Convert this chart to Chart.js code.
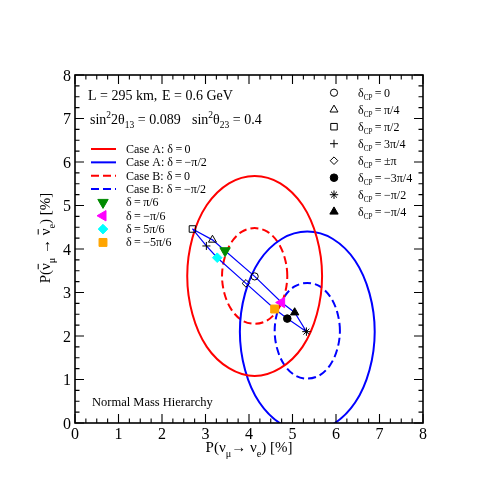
<!DOCTYPE html>
<html>
<head>
<meta charset="utf-8">
<script src="https://cdn.jsdelivr.net/npm/chart.js@4.4.0/dist/chart.umd.min.js"></script>
<style>
  html, body { margin: 0; padding: 0; background: #fff; }
</style>
</head>
<body>
<canvas id="probChart" width="498" height="498"></canvas>
<script>
// =========================
//  P(nu_mu -> nu_e) vs P(anti) bi-probability plot
// =========================

// ----- Data -----
const xTicks = [0, 1, 2, 3, 4, 5, 6, 7, 8];
const yTicks = [0, 1, 2, 3, 4, 5, 6, 7, 8];

// delta_CP markers (black)
const cpLabels = ["0", "π/4", "π/2", "3π/4", "±π", "−3π/4", "−π/2", "−π/4"];
const cpX = [4.13, 3.16, 2.70, 3.02, 3.93, 4.88, 5.32, 5.05];
const cpY = [3.37, 4.21, 4.46, 4.07, 3.21, 2.40, 2.10, 2.54];

// extra delta markers (coloured)
const deltaLabels = ["π/6", "−π/6", "5π/6", "−5π/6"];
const deltaX = [3.45, 4.75, 3.27, 4.59];
const deltaY = [3.96, 2.77, 3.80, 2.62];

// thin contour, delta = π/2 → 0 → −π/2 → ±π → π/2
const bandX = [2.70, 3.16, 3.45, 4.13, 4.75, 5.05, 5.32, 4.88, 4.59, 3.93, 3.27, 3.02, 2.70];
const bandY = [4.46, 4.21, 3.96, 3.37, 2.77, 2.54, 2.10, 2.40, 2.62, 3.21, 3.80, 4.07, 4.46];

// Case A: delta = 0 (red solid)
const caseA0X = [5.68, 5.56, 5.23, 4.72, 4.13, 3.54, 3.03, 2.70, 2.58, 2.70, 3.03, 3.54, 4.13, 4.72, 5.23, 5.56, 5.68];
const caseA0Y = [3.38, 4.26, 5.01, 5.51, 5.68, 5.51, 5.01, 4.26, 3.38, 2.50, 1.75, 1.26, 1.08, 1.26, 1.75, 2.50, 3.38];
// Case A: delta = -π/2 (blue solid)
const caseA1X = [6.89, 6.77, 6.44, 5.93, 5.34, 4.75, 4.24, 3.91, 3.79, 3.91, 4.24, 4.75, 5.34, 5.93, 6.44, 6.77, 6.89];
const caseA1Y = [2.10, 2.98, 3.73, 4.23, 4.40, 4.23, 3.73, 2.98, 2.10, 1.22, 0.47, -0.03, -0.20, -0.03, 0.47, 1.22, 2.10];
// Case B: delta = 0 (red dashed)
const caseB0X = [4.88, 4.82, 4.66, 4.42, 4.13, 3.84, 3.60, 3.44, 3.38, 3.44, 3.60, 3.84, 4.13, 4.42, 4.66, 4.82, 4.88];
const caseB0Y = [3.38, 3.80, 4.16, 4.40, 4.48, 4.40, 4.16, 3.80, 3.38, 2.96, 2.60, 2.36, 2.28, 2.36, 2.60, 2.96, 3.38];
// Case B: delta = -π/2 (blue dashed)
const caseB1X = [6.09, 6.03, 5.87, 5.63, 5.34, 5.05, 4.81, 4.65, 4.59, 4.65, 4.81, 5.05, 5.34, 5.63, 5.87, 6.03, 6.09];
const caseB1Y = [2.12, 2.54, 2.90, 3.14, 3.22, 3.14, 2.90, 2.54, 2.12, 1.70, 1.34, 1.10, 1.02, 1.10, 1.34, 1.70, 2.12];

const caseLabels = ["Case A: δ = 0", "Case A: δ = −π/2", "Case B: δ = 0", "Case B: δ = −π/2"];

// ----- Styles -----
const SERIF = '"Liberation Serif", "Times New Roman", serif';
const RED = "#ff0000", BLUE = "#0000ff";
const NONE = "rgba(0,0,0,0)";
const THIN = "\u2009";

const cpStyle = [
  { pointStyle: "circle", radius: 3.6, fill: NONE, rot: 0 },
  { pointStyle: "triangle", radius: 4.6, fill: NONE, rot: 0 },
  { pointStyle: "rect", radius: 4.6, fill: NONE, rot: 0 },
  { pointStyle: "cross", radius: 4, fill: NONE, rot: 0 },
  { pointStyle: "rectRot", radius: 3.8, fill: NONE, rot: 0 },
  { pointStyle: "circle", radius: 3.8, fill: "#000", rot: 0 },
  { pointStyle: "star", radius: 4.2, fill: NONE, rot: 0 },
  { pointStyle: "triangle", radius: 4.8, fill: "#000", rot: 0 }
];
const deltaStyle = [
  { pointStyle: "triangle", radius: 6, fill: "#008b00", rot: 180 },
  { pointStyle: "triangle", radius: 6, fill: "#ff00ff", rot: -90 },
  { pointStyle: "rectRot", radius: 4.8, fill: "#00ffff", rot: 0 },
  { pointStyle: "rect", radius: 5.6, fill: "#ffa500", rot: 0 }
];

const toPts = (xs, ys) => xs.map((x, i) => ({ x, y: ys[i] }));
// closed curves: add the neighbours on both ends so the spline joins smoothly
const wrap = (a) => [a[a.length - 2], ...a, a[1]];
const thin = (s) => s.replace(/ = /g, THIN + "=" + THIN);

// ----- Rich text helper: ^{sup}, _{sub}, !{overbar} -----
function parseRich(str) {
  const re = /([\^_!])\{([^}]*)\}|([^\^_!]+)/g;
  const out = [];
  let m;
  while ((m = re.exec(str))) {
    if (m[3]) out.push({ t: m[3], mode: "n" });
    else out.push({ t: m[2], mode: m[1] === "^" ? "sup" : m[1] === "_" ? "sub" : "bar" });
  }
  return out;
}

function drawRich(ctx, str, x, y, size, align, subScale) {
  const parts = parseRich(str);
  const ss = subScale || 0.68;
  let w = 0;
  parts.forEach((p) => {
    p.size = p.mode === "sup" || p.mode === "sub" ? size * ss : size;
    ctx.font = `${p.size}px ${SERIF}`;
    p.w = ctx.measureText(p.t).width;
    w += p.w;
  });
  let cx = align === "center" ? x - w / 2 : align === "right" ? x - w : x;
  ctx.textAlign = "left";
  ctx.textBaseline = "alphabetic";
  parts.forEach((p) => {
    ctx.font = `${p.size}px ${SERIF}`;
    let dy = 0;
    if (p.mode === "sup") dy = -size * 0.4;
    if (p.mode === "sub") dy = size * 0.3;
    ctx.fillText(p.t, cx, y + dy);
    if (p.mode === "bar") ctx.fillRect(cx + p.w * 0.1, y - size * 0.82, p.w * 0.8, 1);
    cx += p.w;
  });
}

function marker(ctx, s, px, py, border) {
  ctx.save();
  ctx.fillStyle = s.fill;
  ctx.strokeStyle = border || "#000";
  ctx.lineWidth = 1;
  Chart.helpers.drawPoint(ctx, { pointStyle: s.pointStyle, radius: s.radius, rotation: s.rot, borderWidth: 1 }, px, py);
  ctx.restore();
}

// ----- Frame, inward ticks, labels and legends -----
const MINOR = 0.25;
const decorPlugin = {
  id: "decor",
  afterDraw(chart) {
    const { ctx, chartArea: { left, right, top, bottom }, scales: { x, y } } = chart;
    ctx.save();
    ctx.strokeStyle = "#000";
    ctx.lineWidth = 1.6;
    ctx.strokeRect(left, top, right - left, bottom - top);

    ctx.lineWidth = 1.1;
    ctx.beginPath();
    for (let v = x.min; v <= x.max + 1e-9; v += MINOR) {
      const px = x.getPixelForValue(v);
      const len = Math.abs(v - Math.round(v)) < 1e-6 ? 9 : 4.5;
      ctx.moveTo(px, bottom); ctx.lineTo(px, bottom - len);
      ctx.moveTo(px, top); ctx.lineTo(px, top + len);
    }
    for (let v = y.min; v <= y.max + 1e-9; v += MINOR) {
      const py = y.getPixelForValue(v);
      const len = Math.abs(v - Math.round(v)) < 1e-6 ? 9 : 4.5;
      ctx.moveTo(left, py); ctx.lineTo(left + len, py);
      ctx.moveTo(right, py); ctx.lineTo(right - len, py);
    }
    ctx.stroke();

    // tick labels
    ctx.fillStyle = "#000";
    ctx.font = `16px ${SERIF}`;
    ctx.textBaseline = "alphabetic";
    ctx.textAlign = "center";
    xTicks.forEach((v) => ctx.fillText(String(v), x.getPixelForValue(v), bottom + 15.5));
    ctx.textAlign = "right";
    yTicks.forEach((v) => ctx.fillText(String(v), left - 4, y.getPixelForValue(v) + 5.5));

    // axis titles
    drawRich(ctx, "P(ν_{μ}→ ν_{e}) [%]", (left + right) / 2, 452, 15, "center");
    ctx.save();
    ctx.translate(50, 238);
    ctx.rotate(-Math.PI / 2);
    drawRich(ctx, "P(!{ν}_{μ} → !{ν}_{e}) [%]", 0, 0, 15, "center");
    ctx.restore();

    // header text
    drawRich(ctx, "L = 295 km,", 88, 100, 14, "left");
    drawRich(ctx, "E = 0.6 GeV", 162, 100, 14, "left");
    drawRich(ctx, "sin^{2}2θ_{13} = 0.089", 90, 124, 14, "left");
    drawRich(ctx, "sin^{2}θ_{23} = 0.4", 192, 124, 14, "left");
    drawRich(ctx, "Normal Mass Hierarchy", 92, 406, 12.5, "left");

    // left legend: curves then coloured markers
    const ds = chart.data.datasets;
    const rowY = (i) => 149 + i * 13.35;
    caseLabels.forEach((lab, i) => {
      const d = ds[i];
      ctx.save();
      ctx.strokeStyle = d.borderColor;
      ctx.lineWidth = d.borderWidth;
      ctx.setLineDash(d.borderDash || []);
      ctx.beginPath();
      ctx.moveTo(91, rowY(i));
      ctx.lineTo(116, rowY(i));
      ctx.stroke();
      ctx.restore();
      ctx.fillStyle = "#000";
      drawRich(ctx, thin(lab), 126, rowY(i) + 4, 12, "left");
    });
    deltaLabels.forEach((lab, i) => {
      const s = deltaStyle[i];
      marker(ctx, s, 103, rowY(i + 4), s.fill);
      ctx.fillStyle = "#000";
      drawRich(ctx, thin("δ = " + lab), 126, rowY(i + 4) + 4, 12, "left");
    });

    // right legend: delta_CP markers
    cpLabels.forEach((lab, i) => {
      const py = 92.7 + i * 17;
      marker(ctx, cpStyle[i], 334, py);
      ctx.fillStyle = "#000";
      drawRich(ctx, thin("δ_{CP} = " + lab), 358, py + 4, 12, "left", 0.6);
    });
    ctx.restore();
  }
};

// ----- Chart setup -----
const curve = (label, xs, ys, color, dash) => {
  const n = xs.length + 2;
  return {
    label,
    data: toPts(wrap(xs), wrap(ys)),
    showLine: true,
    borderColor: color,
    borderWidth: 2,
    borderDash: dash,
    pointRadius: 0,
    tension: 0.34,
    order: 2,
    segment: {
      borderColor: (c) => (c.p0DataIndex === 0 || c.p1DataIndex === n - 1 ? NONE : undefined)
    }
  };
};

const chart = new Chart(document.getElementById("probChart"), {
  type: "scatter",
  data: {
    datasets: [
      curve(caseLabels[0], caseA0X, caseA0Y, RED, []),
      curve(caseLabels[1], caseA1X, caseA1Y, BLUE, []),
      curve(caseLabels[2], caseB0X, caseB0Y, RED, [8, 4]),
      curve(caseLabels[3], caseB1X, caseB1Y, BLUE, [8, 4]),
      {
        label: "band",
        data: toPts(bandX, bandY),
        showLine: true,
        borderColor: BLUE,
        borderWidth: 1.2,
        pointRadius: 0,
        tension: 0,
        order: 1
      },
      {
        label: "δCP",
        data: toPts(cpX, cpY),
        showLine: false,
        pointStyle: cpStyle.map((s) => s.pointStyle),
        pointRadius: cpStyle.map((s) => s.radius),
        pointBackgroundColor: cpStyle.map((s) => s.fill),
        pointBorderColor: "#000",
        pointBorderWidth: 1,
        pointRotation: cpStyle.map((s) => s.rot),
        order: 0
      },
      {
        label: "δ",
        data: toPts(deltaX, deltaY),
        showLine: false,
        pointStyle: deltaStyle.map((s) => s.pointStyle),
        pointRadius: deltaStyle.map((s) => s.radius),
        pointBackgroundColor: deltaStyle.map((s) => s.fill),
        pointBorderColor: deltaStyle.map((s) => s.fill),
        pointBorderWidth: 1,
        pointRotation: deltaStyle.map((s) => s.rot),
        order: 0
      }
    ]
  },
  options: {
    responsive: false,
    animation: false,
    layout: { padding: { left: 75, right: 75, top: 75, bottom: 75 } },
    plugins: { legend: { display: false }, tooltip: { enabled: false } },
    scales: {
      x: { type: "linear", min: 0, max: 8, display: false },
      y: { type: "linear", min: 0, max: 8, display: false }
    }
  },
  plugins: [decorPlugin]
});
</script>
</body>
</html>
